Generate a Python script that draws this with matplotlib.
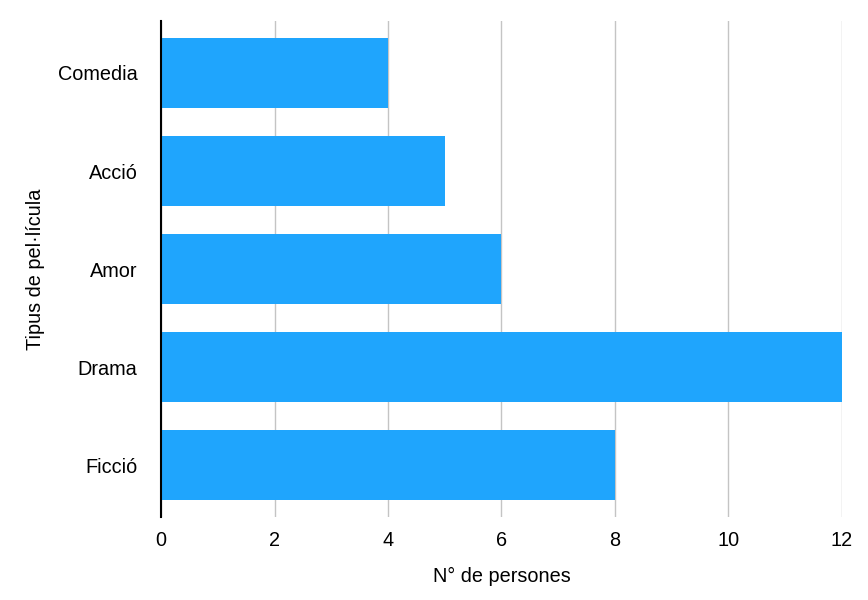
import matplotlib.pyplot as plt

categories = ['Comedia', 'Acció', 'Amor', 'Drama', 'Ficció']
values = [4, 5, 6, 12, 8]
xticks = [0, 2, 4, 6, 8, 10, 12]

plt.rcParams['font.family'] = ['Liberation Sans', 'DejaVu Sans']

fig = plt.figure(figsize=(8.68, 6), dpi=100)
ax = fig.add_axes([0.1855, 0.138, 0.7845, 0.827])

pos = list(range(len(categories)))[::-1]
ax.barh(pos, values, height=0.71, color='#1fa5fd', zorder=2)

ax.set_xlim(0, 12)
ax.set_ylim(-0.53, 4.53)
ax.set_xticks(xticks)
ax.set_yticks(pos)
ax.set_yticklabels(categories)
ax.xaxis.grid(True, color='#c4c4c4', linewidth=1, zorder=0)
ax.tick_params(length=0, labelsize=14.3)
ax.tick_params(axis='x', pad=10)
ax.tick_params(axis='y', pad=17)

for s in ['top', 'right', 'bottom']:
    ax.spines[s].set_visible(False)
ax.spines['left'].set_linewidth(1.5)
ax.spines['left'].set_zorder(3)

ax.set_xlabel('N° de persones', fontsize=14.3, labelpad=12)
ax.set_ylabel('Tipus de pel·lícula', fontsize=14.3, labelpad=9)

fig.savefig('out.png', dpi=100)
